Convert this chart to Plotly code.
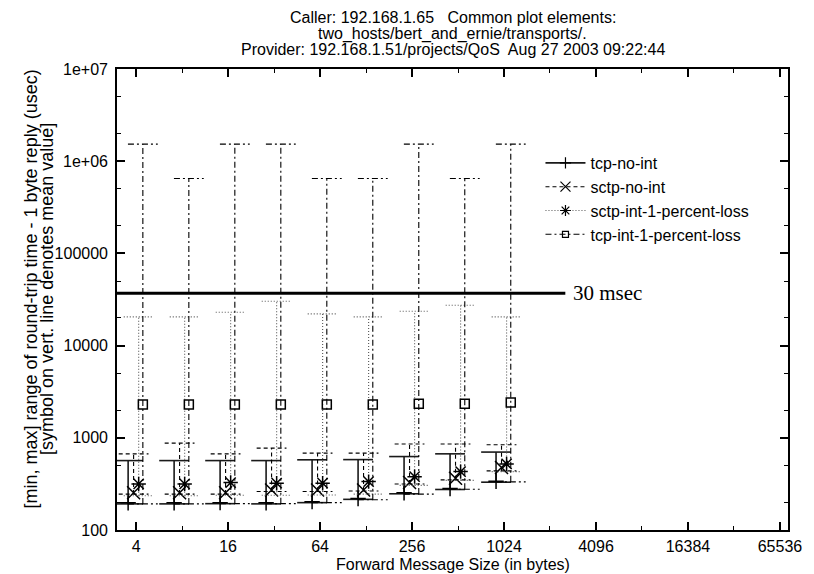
import math
import plotly.graph_objects as go

# ---------------- data ----------------
sizes = [4, 8, 16, 32, 64, 128, 256, 512, 1024]

tcp_no_int_min  = [192, 192, 193, 192, 198, 215, 247, 275, 330]
tcp_no_int_mean = [197, 197, 198, 197, 203, 220, 253, 282, 338]
tcp_no_int_max  = [566, 566, 566, 566, 577, 580, 626, 670, 700]

sctp_no_int_min  = [245, 245, 245, 262, 262, 265, 316, 350, 438]
sctp_no_int_mean = [254, 254, 254, 272, 272, 272, 327, 365, 476]
sctp_no_int_max  = [670, 875, 670, 773, 682, 682, 855, 855, 840]

sctp_int_min  = [235, 235, 238, 238, 240, 245, 305, 345, 430]
sctp_int_mean = [316, 316, 327, 322, 322, 335, 379, 430, 521]
sctp_int_max  = [20500, 20500, 23000, 30300, 22100, 20500, 23600, 27400, 20500]

tcp_int_min  = [192, 192, 193, 193, 198, 213, 245, 277, 333]
tcp_int_mean = [2290, 2290, 2290, 2290, 2290, 2290, 2340, 2340, 2420]
tcp_int_max  = [1.53e6, 6.5e5, 1.53e6, 1.53e6, 6.5e5, 6.5e5, 1.53e6, 6.5e5, 1.53e6]

series_names = ["tcp-no-int", "sctp-no-int", "sctp-int-1-percent-loss", "tcp-int-1-percent-loss"]

x_tick_vals = [4, 16, 64, 256, 1024, 4096, 16384, 65536]
x_minor_vals = [8, 32, 128, 512, 2048, 8192, 32768]
y_tick_vals = [100, 1000, 10000, 100000, 1e6, 1e7]
y_tick_text = ["100", "1000", "10000", "100000", "1e+06", "1e+07"]
y_minor_vals = [m * 10 ** e for e in range(2, 7) for m in (2, 5)]

ref_line_value = 37000
ref_line_label = "30 msec"

title_lines = [
    "Caller: 192.168.1.65   Common plot elements:",
    "two_hosts/bert_and_ernie/transports/.",
    "Provider: 192.168.1.51/projects/QoS  Aug 27 2003 09:22:44",
]
y_title_lines = [
    "[min, max] range of round-trip time - 1 byte reply (usec)",
    "[symbol on vert. line denotes mean value]",
]
x_title = "Forward Message Size (in bytes)"

# ---------------- layout geometry ----------------
W, H = 814, 574
ML, MR, MT, MB = 117, 22, 69, 44
PW, PH = W - ML - MR, H - MT - MB
x_range = [math.log10(3.0), math.log10(74000)]
y_range = [2, 7]
px_per_dec_x = PW / (x_range[1] - x_range[0])

def px_to_factor(px):
    return 10 ** (px / px_per_dec_x)

def xpaper(px):
    return (px - ML) / PW

def ypaper(py):
    return (H - MB - py) / PH

styles = [
    dict(offset=-8.0, color="#1a1a1a", width=1.6, dash="solid", symbol="cross-thin-open", msize=11),
    dict(offset=-2.5, color="#000000", width=1.1, dash="4px,3px", symbol="x-thin-open", msize=13),
    dict(offset=2.6, color="#555555", width=1.1, dash="1px,2px", symbol="asterisk-open", msize=12),
    dict(offset=6.8, color="#000000", width=1.1, dash="6px,3px,2px,3px", symbol="square-open", msize=9),
]
data_sets = [
    (tcp_no_int_min, tcp_no_int_mean, tcp_no_int_max),
    (sctp_no_int_min, sctp_no_int_mean, sctp_no_int_max),
    (sctp_int_min, sctp_int_mean, sctp_int_max),
    (tcp_int_min, tcp_int_mean, tcp_int_max),
]

cap = px_to_factor(15)

fig = go.Figure()
for name, st, (mins, means, maxs) in zip(series_names, styles, data_sets):
    f = px_to_factor(st["offset"])
    xs, ys = [], []
    for s, lo, hi in zip(sizes, mins, maxs):
        xc = s * f
        xs += [xc, xc, None, xc / cap, xc * cap, None, xc / cap, xc * cap, None]
        ys += [lo, hi, None, hi, hi, None, lo, lo, None]
    fig.add_trace(go.Scatter(
        x=xs, y=ys, mode="lines", showlegend=False, hoverinfo="skip",
        line=dict(color=st["color"], width=st["width"], dash=st["dash"]),
    ))
    fig.add_trace(go.Scatter(
        x=[s * f for s in sizes], y=means, mode="markers", showlegend=False,
        marker=dict(symbol=st["symbol"], size=st["msize"], color="black",
                    line=dict(color="black", width=1.5)),
    ))
    fig.add_trace(go.Scatter(
        x=[None], y=[None], mode="lines+markers", name=name,
        line=dict(color=st["color"], width=st["width"], dash=st["dash"]),
        marker=dict(symbol=st["symbol"], size=st["msize"] - 3, color="black",
                    line=dict(color="black", width=1.2)),
    ))

font_family = "Liberation Sans, Arial, sans-serif"
FS = 16
axis_common = dict(
    showline=True, linecolor="black", linewidth=1.6, mirror="ticks",
    ticks="inside", ticklen=8, tickwidth=1.5, tickcolor="black",
    showgrid=False, zeroline=False,
    tickfont=dict(family=font_family, size=FS, color="black"),
)
fig.update_xaxes(
    type="log", range=x_range, tickmode="array", tickvals=x_tick_vals,
    ticktext=[str(v) for v in x_tick_vals], ticklabelstandoff=1,
    minor=dict(tickmode="array", tickvals=x_minor_vals, ticks="inside",
               ticklen=4, tickwidth=1.2, tickcolor="black"),
    **axis_common,
)
fig.update_yaxes(
    type="log", range=y_range, tickmode="array", tickvals=y_tick_vals,
    ticktext=y_tick_text, ticklabelstandoff=4,
    minor=dict(tickmode="array", tickvals=y_minor_vals, ticks="inside",
               ticklen=4, tickwidth=1.2, tickcolor="black"),
    **axis_common,
)

annotations = []
for i, line in enumerate(title_lines):
    annotations.append(dict(
        text=line, xref="paper", yref="paper", x=0.5, y=ypaper(18 + i * 15.5),
        xanchor="center", yanchor="middle", showarrow=False,
        font=dict(family=font_family, size=FS, color="black"),
    ))
for i, line in enumerate(y_title_lines):
    annotations.append(dict(
        text=line, xref="paper", yref="paper", x=xpaper(30 + i * 16.5), y=ypaper(289),
        xanchor="center", yanchor="middle", textangle=-90, showarrow=False,
        font=dict(family=font_family, size=18, color="black"),
    ))
annotations.append(dict(
    text=x_title, xref="paper", yref="paper", x=0.5, y=ypaper(564),
    xanchor="center", yanchor="middle", showarrow=False,
    font=dict(family=font_family, size=FS, color="black"),
))
annotations.append(dict(
    text=ref_line_label, xref="paper", yref="y", x=xpaper(574),
    y=math.log10(ref_line_value), xanchor="left", yanchor="middle", showarrow=False,
    font=dict(family="Liberation Serif, Times New Roman, serif", size=21, color="black"),
))

fig.update_layout(
    width=W, height=H,
    margin=dict(l=ML, r=MR, t=MT, b=MB, pad=0),
    paper_bgcolor="white", plot_bgcolor="white",
    annotations=annotations,
    shapes=[dict(type="line", xref="paper", x0=0, x1=xpaper(568), yref="y",
                 y0=ref_line_value, y1=ref_line_value,
                 line=dict(color="black", width=3))],
    legend=dict(x=xpaper(543), y=ypaper(146), xanchor="left", yanchor="top",
                bgcolor="rgba(0,0,0,0)", font=dict(family=font_family, size=FS, color="black"),
                itemwidth=40, tracegroupgap=0),
    font=dict(family=font_family, color="black"),
)

fig.write_html("out.html")
